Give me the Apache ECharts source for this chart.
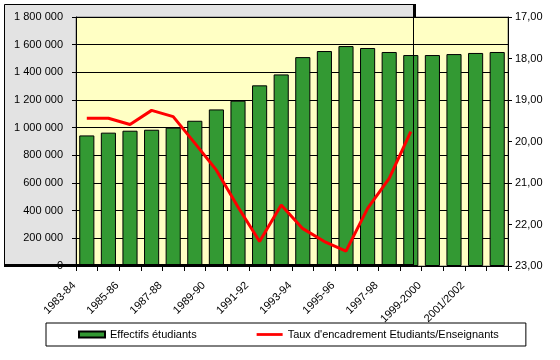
<!DOCTYPE html>
<html>
<head>
<meta charset="utf-8">
<script src="https://cdn.jsdelivr.net/npm/echarts@6/dist/echarts.min.js"></script>
<style>html,body{margin:0;padding:0;background:#fff;}#c{width:560px;height:360px;}</style>
</head>
<body>
<div id="c"></div>
<script>
var categories = ['1983-84','1984-85','1985-86','1986-87','1987-88','1988-89','1989-90','1990-91','1991-92','1992-93','1993-94','1994-95','1995-96','1996-97','1997-98','1998-99','1999-2000','2000-01','2001/2002','2002/2003'];
var effectifs = [944000, 964000, 978000, 985000, 1000000, 1050000, 1132000, 1195000, 1306000, 1385000, 1510000, 1554000, 1590000, 1576000, 1547000, 1525000, 1525000, 1532000, 1540000, 1547000];
var taux = [19.44, 19.44, 19.59, 19.25, 19.40, 20.04, 20.69, 21.58, 22.41, 21.53, 22.10, 22.41, 22.64, 21.61, 20.89, 19.76, null, null, null, null];
var leftTicks = {min: 0, max: 1800000, interval: 200000};
var rightTicks = {min: 17, max: 23, interval: 1};

var FONT = 'Liberation Sans, Arial, sans-serif';
var chart = echarts.init(document.getElementById('c'), null, {renderer: 'canvas'});
function fmtThousands(v) {
  return String(v).replace(/\B(?=(\d{3})+(?!\d))/g, ' ');
}
chart.setOption({
  animation: false,
  backgroundColor: '#ffffff',
  textStyle: {fontFamily: FONT, fontSize: 11, color: '#000'},
  graphic: [
    {type: 'rect', z: -1, shape: {x: 4.5, y: 4.5, width: 409, height: 262},
     style: {fill: '#e3e3e3', stroke: '#000', lineWidth: 1}},
    {type: 'rect', z: 50, shape: {x: 4, y: 264, width: 410, height: 3}, style: {fill: '#000'}},
    {type: 'rect', z: 50, shape: {x: 413, y: 4, width: 3, height: 13}, style: {fill: '#000'}},
    {type: 'line', z: 50, shape: {x1: 413.5, y1: 17, x2: 413.5, y2: 266}, style: {stroke: '#000', lineWidth: 1}}
  ],
  grid: {left: 76, right: 52, top: 17, bottom: 94, show: true, backgroundColor: '#ffffc4', borderColor: '#808080', borderWidth: 1},
  legend: {
    left: 46, top: 323,
    padding: [6, 27, 6, 32],
    backgroundColor: '#fff', borderColor: '#000', borderWidth: 1,
    itemWidth: 26, itemHeight: 6, itemGap: 60,
    textStyle: {fontFamily: FONT, fontSize: 11, color: '#000'},
    data: [
      {name: 'Effectifs étudiants', icon: 'rect'},
      {name: "Taux d'encadrement Etudiants/Enseignants", icon: 'path://M0,0 L28,0 L28,3 L0,3 Z', itemStyle: {color: '#ff0000', borderWidth: 0}}
    ]
  },
  xAxis: {
    type: 'category', data: categories, boundaryGap: true,
    axisLine: {lineStyle: {color: '#000', width: 1}},
    axisTick: {show: true, interval: 0, length: 5, alignWithLabel: false, lineStyle: {color: '#000'}},
    axisLabel: {interval: 1, rotate: 45, margin: 5, padding: [0, 18, 0, 0], fontFamily: FONT, fontSize: 11, color: '#000'},
    splitLine: {show: false}
  },
  yAxis: [
    {type: 'value', position: 'left', min: leftTicks.min, max: leftTicks.max, interval: leftTicks.interval,
     axisLine: {show: true, lineStyle: {color: '#000'}},
     axisTick: {show: true, length: 4, lineStyle: {color: '#000'}},
     axisLabel: {margin: 13, formatter: fmtThousands, fontFamily: FONT, fontSize: 11, color: '#000'},
     splitLine: {show: true, lineStyle: {color: '#000', width: 1}}},
    {type: 'value', position: 'right', inverse: true, min: rightTicks.min, max: rightTicks.max, interval: rightTicks.interval,
     axisLine: {show: true, lineStyle: {color: '#000'}},
     axisTick: {show: true, length: 4, lineStyle: {color: '#000'}},
     axisLabel: {margin: 7, formatter: function (v) { return v.toFixed(2).replace('.', ','); }, fontFamily: FONT, fontSize: 11, color: '#000'},
     splitLine: {show: false}}
  ],
  series: [
    {name: 'Effectifs étudiants', type: 'bar', yAxisIndex: 0, data: effectifs, barCategoryGap: '30%',
     itemStyle: {color: '#339933', borderColor: '#000', borderWidth: 1}},
    {name: "Taux d'encadrement Etudiants/Enseignants", type: 'line', yAxisIndex: 1, data: taux,
     symbol: 'none', showSymbol: false, connectNulls: false, z: 5,
     lineStyle: {color: '#ff0000', width: 3}, itemStyle: {color: '#ff0000'}}
  ]
});
</script>
</body>
</html>
